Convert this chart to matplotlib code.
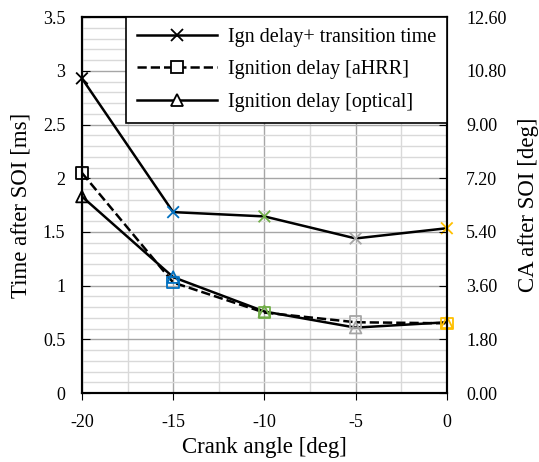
import numpy as np
import matplotlib
matplotlib.use("Agg")
import matplotlib.pyplot as plt
from matplotlib.lines import Line2D
from matplotlib.ticker import MultipleLocator, FormatStrFormatter

plt.rcParams['font.family'] = ['Liberation Serif', 'DejaVu Serif']
plt.rcParams['axes.unicode_minus'] = False

crank = [-20, -15, -10, -5, 0]
ign_trans = [2.93, 1.685, 1.645, 1.44, 1.535]
ign_ahrr = [2.05, 1.03, 0.75, 0.66, 0.65]
ign_optical = [1.83, 1.08, 0.76, 0.61, 0.66]
point_colors = ['black', '#0070C0', '#70AD47', '#A5A5A5', '#FFC000']
labels = ['Ign delay+ transition time', 'Ignition delay [aHRR]', 'Ignition delay [optical]']

fig = plt.figure(figsize=(5.39, 4.62), dpi=100)
ax = fig.add_axes([0.152, 0.149, 0.677, 0.814])

ax.plot(crank, ign_trans, color='black', lw=1.8, zorder=3)
ax.plot(crank, ign_ahrr, color='black', lw=1.8, ls='--', zorder=3)
ax.plot(crank, ign_optical, color='black', lw=1.8, zorder=3)

ax.scatter(crank, ign_trans, marker='x', c=point_colors, s=70, linewidths=1.3, zorder=4, clip_on=False)
ax.scatter(crank, ign_ahrr, marker='s', facecolors='none', edgecolors=point_colors, s=70, linewidths=1.3,
           zorder=4, clip_on=False)
ax.scatter(crank, ign_optical, marker='^', facecolors='none', edgecolors=point_colors, s=70, linewidths=1.3,
           zorder=4, clip_on=False)

ax.set_xlim(-20, 0)
ax.set_ylim(0, 3.5)
ax.xaxis.set_major_locator(MultipleLocator(5))
ax.xaxis.set_minor_locator(MultipleLocator(2.5))
ax.yaxis.set_major_locator(MultipleLocator(0.5))
ax.yaxis.set_minor_locator(MultipleLocator(0.1))
ax.yaxis.set_major_formatter(matplotlib.ticker.FuncFormatter(lambda v, p: ('%g' % v)))
ax.grid(which='major', color='#a6a6a6', lw=1.0)
ax.grid(which='minor', color='#d9d9d9', lw=1.0)
ax.set_axisbelow(True)
ax.tick_params(axis='y', which='major', direction='in', length=6, labelsize=13, pad=12)
ax.tick_params(axis='x', which='major', direction='out', length=5, labelsize=13, pad=10)
ax.tick_params(which='minor', length=0)
for s in ax.spines.values():
    s.set_linewidth(1.5)

ax.set_xlabel('Crank angle [deg]', fontsize=16.5, labelpad=4)
ax.set_ylabel('Time after SOI [ms]', fontsize=16.5, labelpad=8)

ax2 = ax.twinx()
ax2.set_ylim(0, 12.6)
ax2.yaxis.set_major_locator(MultipleLocator(1.8))
ax2.yaxis.set_major_formatter(FormatStrFormatter('%.2f'))
ax2.tick_params(axis='y', direction='in', length=6, labelsize=13, pad=14)
ax2.set_ylabel('CA after SOI [deg]', fontsize=16.5, labelpad=8)
for s in ax2.spines.values():
    s.set_linewidth(1.5)

handles = [
    Line2D([], [], color='black', lw=1.8, marker='x', ms=8, mew=1.3),
    Line2D([], [], color='black', lw=1.8, ls='--', marker='s', ms=8, mew=1.3, mfc='white'),
    Line2D([], [], color='black', lw=1.8, marker='^', ms=8, mew=1.3, mfc='white'),
]
leg = ax2.legend(handles, labels, loc='upper right', fontsize=14.5, frameon=True, fancybox=False,
                 edgecolor='black', framealpha=1, borderaxespad=0, handlelength=4.0,
                 labelspacing=0.65, borderpad=0.55, handletextpad=0.5)
leg.get_frame().set_linewidth(1.2)

fig.savefig('out.png', dpi=100)
